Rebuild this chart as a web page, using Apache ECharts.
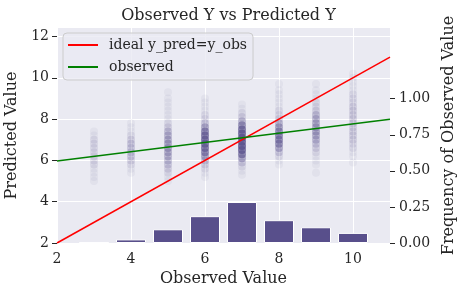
<!DOCTYPE html>
<html>
<head>
<meta charset="utf-8">
<script src="https://cdn.jsdelivr.net/npm/echarts@6/dist/echarts.min.js"></script>
<style>
html,body{margin:0;padding:0;background:#fff;}
#chart{width:460px;height:295px;}
</style>
</head>
<body>
<div id="chart"></div>
<script>
// ---- data ----
const xTicks = [2, 4, 6, 8, 10];
const leftTicks = [2, 4, 6, 8, 10, 12];
const rightTicks = [0, 0.25, 0.5, 0.75, 1.0];

// histogram of observed values (frequency)
const obsValues = [3, 4, 5, 6, 7, 8, 9, 10];
const obsFreq = [0.004, 0.025, 0.095, 0.186, 0.284, 0.158, 0.109, 0.07];

// ideal line and fitted "observed" line endpoints
const idealLine = [[2, 2], [11, 11]];
const observedLine = [[2, 5.97], [11, 7.99]];

// predicted values per observed value: [predicted, count]
const strip3 = [[5.0,1],[5.2,1],[5.4,1],[5.6,1],[5.8,2],[6.0,2],[6.2,2],[6.4,2],[6.6,2],[6.8,2],[7.0,2],[7.2,1],[7.4,1]];
const strip4 = [[5.4,1],[5.6,1],[5.8,2],[6.0,3],[6.2,4],[6.4,4],[6.6,4],[6.8,4],[7.0,3],[7.2,2],[7.4,1],[7.6,1],[7.8,1]];
const strip5 = [[5.0,1],[5.2,1],[5.4,2],[5.6,3],[5.8,4],[6.0,5],[6.2,6],[6.4,7],[6.6,8],[6.8,8],[7.0,7],[7.2,6],[7.4,5],[7.6,3],[7.8,2],[8.0,1],[8.2,1],[8.4,1],[8.6,1],[8.8,1],[9.0,1],[9.3,1]];
const strip6 = [[5.2,1],[5.4,1],[5.6,2],[5.8,3],[6.0,5],[6.2,9],[6.4,14],[6.6,18],[6.8,20],[7.0,20],[7.2,18],[7.4,14],[7.6,8],[7.8,4],[8.0,2],[8.2,2],[8.4,1],[8.6,1],[8.8,1],[9.0,1]];
const strip7 = [[5.3,1],[5.5,1],[5.7,2],[5.9,4],[6.1,8],[6.3,16],[6.5,22],[6.7,25],[6.9,25],[7.1,25],[7.3,22],[7.5,18],[7.7,12],[7.9,6],[8.1,3],[8.3,2],[8.5,1],[8.7,1]];
const strip8 = [[5.8,1],[6.0,1],[6.2,2],[6.4,4],[6.6,8],[6.8,12],[7.0,14],[7.2,14],[7.4,12],[7.6,9],[7.8,6],[8.0,3],[8.2,2],[8.4,2],[8.6,1],[8.8,1],[9.0,1],[9.2,1],[9.4,1],[9.7,1]];
const strip9 = [[5.4,1],[5.8,1],[6.0,1],[6.2,1],[6.4,2],[6.6,3],[6.8,4],[7.0,6],[7.2,7],[7.4,8],[7.6,8],[7.8,7],[8.0,6],[8.2,5],[8.4,3],[8.6,2],[8.8,2],[9.0,1],[9.2,1],[9.4,1],[9.7,1]];
const strip10 = [[5.9,1],[6.2,1],[6.4,1],[6.6,2],[6.8,2],[7.0,3],[7.2,3],[7.4,3],[7.6,3],[7.8,3],[8.0,3],[8.2,3],[8.4,3],[8.6,3],[8.8,2],[9.0,2],[9.2,2],[9.4,1],[9.6,1],[9.8,1],[10.0,1],[10.2,1]];
const strips = [strip3, strip4, strip5, strip6, strip7, strip8, strip9, strip10];

// ---- styling ----
const FONT = 'DejaVu Serif';
const TXT = '#262626';
const PURPLE = '#584f8b';
const POINT_ALPHA = 0.06;

const scatterData = [];
strips.forEach((s, i) => {
  const x = obsValues[i];
  s.forEach(([y, n]) => {
    scatterData.push({
      value: [x, y],
      itemStyle: { opacity: 1 - Math.pow(1 - POINT_ALPHA, n) }
    });
  });
});

const chart = echarts.init(document.getElementById('chart'), null, { renderer: 'canvas' });
chart.setOption({
  animation: false,
  backgroundColor: '#ffffff',
  textStyle: { fontFamily: FONT, color: TXT },
  title: {
    text: 'Observed Y vs Predicted Y',
    left: 223.5, top: 3, textAlign: 'center',
    textStyle: { fontFamily: FONT, fontSize: 16, fontWeight: 'normal', color: TXT }
  },
  grid: { left: 57, right: 70, top: 28, bottom: 52, show: true, backgroundColor: '#EAEAF2', borderWidth: 0,
    containLabel: false, outerBoundsMode: 'none' },
  legend: {
    orient: 'vertical', left: 63, top: 33,
    backgroundColor: 'rgba(234,234,242,0.8)', borderColor: '#cccccc', borderWidth: 1, borderRadius: 4,
    padding: [5, 6, 6, 5], itemGap: 8,
    itemWidth: 30, itemHeight: 2,
    textStyle: { fontFamily: FONT, fontSize: 14, color: TXT, padding: [0, 0, 0, 6] },
    data: [
      { name: 'ideal y_pred=y_obs', icon: 'rect', itemStyle: { color: '#ff0000' } },
      { name: 'observed', icon: 'rect', itemStyle: { color: '#008000' } }
    ]
  },
  xAxis: {
    type: 'value', min: 2, max: 11, interval: 2,
    name: 'Observed Value', nameLocation: 'middle', nameGap: 27,
    nameTextStyle: { fontFamily: FONT, fontSize: 16, color: TXT },
    axisLine: { show: false }, axisTick: { show: false },
    axisLabel: { fontFamily: FONT, fontSize: 14, color: TXT, margin: 9, customValues: xTicks },
    splitLine: { show: true, lineStyle: { color: '#ffffff', width: 1 } }
  },
  yAxis: [
    {
      type: 'value', min: 2, max: 12.41, interval: 2,
      name: 'Predicted Value', nameLocation: 'middle', nameGap: 33,
      nameTextStyle: { fontFamily: FONT, fontSize: 16, color: TXT },
      axisLine: { show: false },
      axisTick: { show: true, length: 5, lineStyle: { color: TXT }, customValues: leftTicks },
      axisLabel: { fontFamily: FONT, fontSize: 14, color: TXT, margin: 8, customValues: leftTicks },
      splitLine: { show: true, lineStyle: { color: '#ffffff', width: 1 } }
    },
    {
      type: 'value', min: 0, max: 1.49, interval: 0.25, position: 'right',
      name: 'Frequency of Observed Value', nameLocation: 'middle', nameGap: 49,
      nameTextStyle: { fontFamily: FONT, fontSize: 16, color: TXT },
      axisLine: { show: false },
      axisTick: { show: true, length: 5, lineStyle: { color: TXT }, customValues: rightTicks },
      axisLabel: { fontFamily: FONT, fontSize: 14, color: TXT, margin: 9, customValues: rightTicks,
        formatter: v => v.toFixed(2) },
      splitLine: { show: false }
    }
  ],
  series: [
    {
      type: 'scatter', name: 'points', xAxisIndex: 0, yAxisIndex: 0,
      symbol: 'circle', symbolSize: 8, itemStyle: { color: PURPLE },
      data: scatterData, z: 2, silent: true
    },
    {
      type: 'line', name: 'ideal y_pred=y_obs', xAxisIndex: 0, yAxisIndex: 0,
      data: idealLine, symbol: 'none', lineStyle: { color: '#ff0000', width: 1.5 },
      itemStyle: { color: '#ff0000' }, z: 3
    },
    {
      type: 'line', name: 'observed', xAxisIndex: 0, yAxisIndex: 0,
      data: observedLine, symbol: 'none', lineStyle: { color: '#008000', width: 1.5 },
      itemStyle: { color: '#008000' }, z: 3
    },
    {
      type: 'bar', name: 'freq', xAxisIndex: 0, yAxisIndex: 1,
      data: obsValues.map((x, i) => [x, obsFreq[i]]),
      barWidth: 30, itemStyle: { color: PURPLE, borderColor: '#ffffff', borderWidth: 1 }, z: 4
    }
  ]
});
</script>
</body>
</html>
